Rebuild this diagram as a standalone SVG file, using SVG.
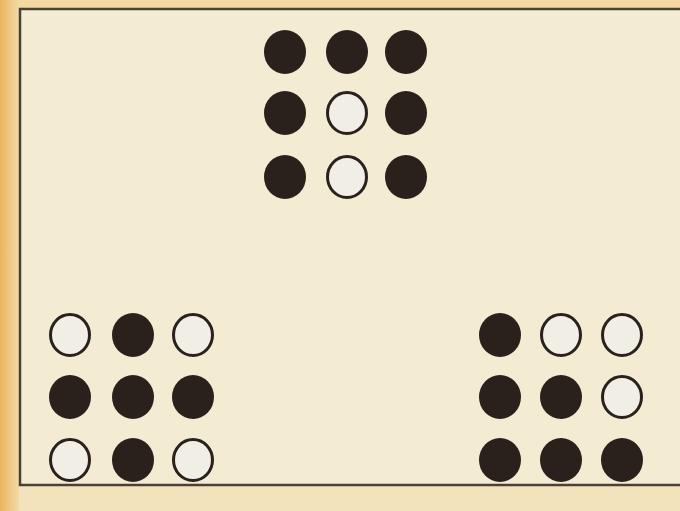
<svg xmlns="http://www.w3.org/2000/svg" width="680" height="511" viewBox="0 0 680 511">
<defs>
<linearGradient id="lg" x1="0" y1="0" x2="1" y2="0">
<stop offset="0" stop-color="#eab45e"/>
<stop offset="1" stop-color="#f3dba6"/>
</linearGradient>
<style>
.b{fill:#2a211d}
.w{fill:#f1eee6;stroke:#2a211d;stroke-width:3}
</style>
</defs>
<rect x="0" y="0" width="680" height="511" fill="#f3e3bd"/>
<rect x="0" y="0" width="680" height="9" fill="#f5d9a2"/>
<rect x="0" y="0" width="19" height="511" fill="url(#lg)"/>
<rect x="20" y="9" width="662" height="476" fill="#f3ecd3" stroke="#4a4036" stroke-width="2.5"/>
<g id="top">
<ellipse class="b" cx="285" cy="52" rx="21" ry="22"/>
<ellipse class="b" cx="347" cy="52" rx="21" ry="22"/>
<ellipse class="b" cx="406" cy="52" rx="21" ry="22"/>
<ellipse class="b" cx="285" cy="113" rx="21" ry="22"/>
<ellipse class="w" cx="347" cy="113" rx="19.5" ry="20.5"/>
<ellipse class="b" cx="406" cy="113" rx="21" ry="22"/>
<ellipse class="b" cx="285" cy="177" rx="21" ry="22"/>
<ellipse class="w" cx="347" cy="177" rx="19.5" ry="20.5"/>
<ellipse class="b" cx="406" cy="177" rx="21" ry="22"/>
</g>
<g id="left">
<ellipse class="w" cx="70" cy="335" rx="19.5" ry="20.5"/>
<ellipse class="b" cx="133" cy="335" rx="21" ry="22"/>
<ellipse class="w" cx="193" cy="335" rx="19.5" ry="20.5"/>
<ellipse class="b" cx="70" cy="397" rx="21" ry="22"/>
<ellipse class="b" cx="133" cy="397" rx="21" ry="22"/>
<ellipse class="b" cx="193" cy="397" rx="21" ry="22"/>
<ellipse class="w" cx="70" cy="460" rx="19.5" ry="20.5"/>
<ellipse class="b" cx="133" cy="460" rx="21" ry="22"/>
<ellipse class="w" cx="193" cy="460" rx="19.5" ry="20.5"/>
</g>
<g id="right">
<ellipse class="b" cx="500" cy="335" rx="21" ry="22"/>
<ellipse class="w" cx="561" cy="335" rx="19.5" ry="20.5"/>
<ellipse class="w" cx="622" cy="335" rx="19.5" ry="20.5"/>
<ellipse class="b" cx="500" cy="397" rx="21" ry="22"/>
<ellipse class="b" cx="561" cy="397" rx="21" ry="22"/>
<ellipse class="w" cx="622" cy="397" rx="19.5" ry="20.5"/>
<ellipse class="b" cx="500" cy="460" rx="21" ry="22"/>
<ellipse class="b" cx="561" cy="460" rx="21" ry="22"/>
<ellipse class="b" cx="622" cy="460" rx="21" ry="22"/>
</g>
<g id="connectors"/>
</svg>
